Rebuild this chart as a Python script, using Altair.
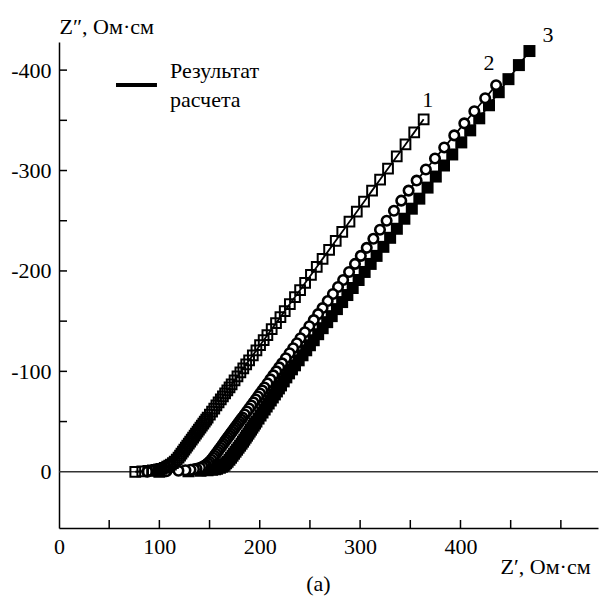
import altair as alt
import pandas as pd

# ---- data (Z' and Z'' in Ohm*cm) ----
s1_zre = [363.3, 353.9, 345.2, 336.5, 327.8, 319.9, 311.9, 303.9, 296.7, 289.4, 282.2, 275.7, 269.1, 262.6,
          256.8, 251.0, 245.2, 240.2, 235.1, 230.0, 224.9, 220.6, 216.2, 211.9, 207.6, 203.9, 200.3, 196.7,
          193.1, 189.4, 186.5, 183.6, 180.7, 177.8, 174.9, 172.0, 169.9, 167.7, 165.5, 163.3, 161.2, 159.0,
          156.8, 154.7, 152.5, 150.3, 148.1, 146.7, 145.2, 143.8, 142.3, 140.9, 139.4, 138.0, 136.5, 135.1,
          133.6, 132.2, 130.7, 129.3, 127.8, 126.4, 124.9, 123.5, 122.0, 120.6, 119.1, 117.3, 115.3, 113.5,
          111.5, 109.8, 107.8, 105.3, 102.0, 99.8, 97.0, 93.5, 89.0, 83.0, 76.0]
s1_zim = [-351, -338, -326, -314, -302, -291, -280, -269, -259, -249, -239, -230, -221, -212, -204, -196,
          -188, -181, -174, -167, -160, -154, -148, -142, -136, -131, -126, -121, -116, -111, -107, -103,
          -99, -95, -91, -87, -84, -81, -78, -75, -72, -69, -66, -63, -60, -57, -54, -52, -50, -48, -46,
          -44, -42, -40, -38, -36, -34, -32, -30, -28, -26, -24, -22, -20, -18, -16, -14, -12, -10, -8.5,
          -7, -6, -5, -4, -3, -2.5, -2, -1.5, -1, -0.5, 0]

s2_zre = [435.5, 424.6, 413.8, 403.8, 393.8, 383.8, 374.6, 365.5, 356.3, 348.3, 341.0, 333.7, 326.4, 319.8,
          313.2, 306.6, 300.7, 294.9, 289.0, 283.1, 278.0, 272.9, 267.7, 262.6, 258.2, 253.8, 249.4, 245.0,
          240.6, 237.0, 233.3, 229.7, 226.0, 222.3, 219.4, 216.5, 213.5, 210.6, 207.7, 204.7, 202.5, 200.3,
          198.2, 196.0, 193.8, 191.6, 189.4, 187.2, 185.0, 182.8, 181.3, 179.8, 178.4, 176.9, 175.4, 174.0,
          172.5, 171.0, 169.6, 168.1, 166.6, 165.2, 163.7, 162.3, 160.8, 159.3, 157.9, 156.4, 154.9, 153.5,
          151.8, 150.0, 148.3, 146.5, 145.0, 143.0, 140.5, 137.0, 134.5, 131.0, 126.0, 119.0, 107.0, 88.0]
s2_zim = [-385, -372, -359, -347, -335, -323, -312, -301, -290, -280, -270, -260, -250, -241, -232, -223,
          -215, -207, -199, -191, -184, -177, -170, -163, -157, -151, -145, -139, -133, -128, -123, -118,
          -113, -108, -104, -100, -96, -92, -88, -84, -81, -78, -75, -72, -69, -66, -63, -60, -57, -54,
          -52, -50, -48, -46, -44, -42, -40, -38, -36, -34, -32, -30, -28, -26, -24, -22, -20, -18, -16,
          -14, -12, -10, -8.5, -7, -6, -5, -4, -3, -2.5, -2, -1.5, -1, -0.5, 0]

s3_zre = [468.7, 458.2, 447.8, 438.1, 428.4, 418.7, 409.7, 400.8, 391.8, 383.6, 375.4, 367.2, 359.0, 351.5,
          344.1, 336.6, 329.9, 323.2, 316.4, 310.5, 304.5, 298.5, 292.6, 287.3, 282.1, 276.9, 271.7, 267.2,
          262.7, 258.2, 253.8, 250.0, 246.3, 242.6, 238.8, 235.1, 232.1, 229.2, 226.5, 223.9, 221.2, 219.1,
          217.1, 215.1, 213.0, 211.0, 208.9, 206.9, 204.9, 202.8, 200.8, 198.8, 196.7, 195.3, 194.0, 192.6,
          191.3, 190.0, 188.7, 187.3, 186.0, 184.6, 183.3, 181.9, 180.4, 178.9, 177.4, 175.9, 174.4, 172.9,
          171.4, 169.8, 168.0, 166.5, 165.0, 163.8, 162.3, 160.3, 157.5, 155.5, 152.5, 148.0, 141.0, 129.0,
          100.0]
s3_zim = [-419, -405, -391, -378, -365, -352, -340, -328, -316, -305, -294, -283, -272, -262, -252, -242,
          -233, -224, -215, -207, -199, -191, -183, -176, -169, -162, -155, -149, -143, -137, -131, -126,
          -121, -116, -111, -106, -102, -98, -94, -90, -86, -83, -80, -77, -74, -71, -68, -65, -62, -59,
          -56, -53, -50, -48, -46, -44, -42, -40, -38, -36, -34, -32, -30, -28, -26, -24, -22, -20, -18,
          -16, -14, -12, -10, -8.5, -7, -6, -5, -4, -3, -2.5, -2, -1.5, -1, -0.5, 0]

x_tick_values = [50, 100, 150, 200, 250, 300, 350, 400, 450, 500]
x_label_values = [0, 100, 200, 300, 400]
y_tick_values = [-400, -350, -300, -250, -200, -150, -100, -50]
y_label_values = [-400, -300, -200, -100, 0]

series_labels = ["1", "2", "3"]
series_label_x = [367.4, 428.3, 487.1]
series_label_y = [-370.1, -407.0, -434.8]

legend_text = ["Результат", "расчета"]
legend_text_x = [110.6, 110.6]
legend_text_y = [-392.0, -363.5]
legend_line_x = [56.8]
legend_line_x2 = [97.6]
legend_line_y = [-385.1]

caption = ["(a)"]
caption_x = [258.5]
caption_y = [118.4]

FONT = "Liberation Serif"
FS = 22

# ---- tables ----
rows = []
for name, xs, ys in [("1", s1_zre, s1_zim), ("2", s2_zre, s2_zim), ("3", s3_zre, s3_zim)]:
    assert len(xs) == len(ys)
    for i, (a, b) in enumerate(zip(xs, ys)):
        rows.append({"series": name, "i": i, "zre": a, "zim": b})
df = pd.DataFrame(rows)

xscale = alt.Scale(domain=[0, 537], nice=False, zero=False)
yscale = alt.Scale(domain=[-428, 56], nice=False, zero=False, reverse=True)

xaxis = alt.Axis(values=x_label_values, ticks=False, tickSize=0, grid=False, labelFont=FONT,
                 labelFontSize=FS, labelColor="black", labelPadding=8, labelFlush=False,
                 labelOverlap=False, domainColor="black", domainWidth=1.5,
                 title="Z\u2032, Ом·см", titleFont=FONT, titleFontSize=FS, titleFontWeight="normal",
                 titleColor="black", titleX=441, titleY=45, titleAlign="left",
                 titleBaseline="alphabetic", titleAngle=0)
yaxis = alt.Axis(values=y_label_values, ticks=False, tickSize=0, grid=False, labelFont=FONT,
                 labelFontSize=FS, labelColor="black", labelPadding=8, labelFlush=False,
                 labelOverlap=False, labelExpr="datum.value == 0 ? '0' : '-' + abs(datum.value)",
                 domainColor="black", domainWidth=1.5,
                 title="Z\u2033, Ом·см", titleFont=FONT, titleFontSize=FS, titleFontWeight="normal",
                 titleColor="black", titleX=0, titleY=-9, titleAlign="left",
                 titleBaseline="alphabetic", titleAngle=0)


def X(field):
    return alt.X(field, type="quantitative", scale=xscale, axis=xaxis)


def Y(field):
    return alt.Y(field, type="quantitative", scale=yscale, axis=yaxis)


zero_line = alt.Chart(pd.DataFrame({"z": [0]})).mark_rule(color="#333333", strokeWidth=1.4).encode(
    y=Y("z"))

fit_lines = alt.Chart(df).mark_line(color="black", strokeWidth=1.8).encode(
    x=X("zre"), y=Y("zim"), detail="series:N", order="i:Q")

pts3 = alt.Chart(df[df.series == "3"]).mark_point(
    shape="square", filled=True, color="black", size=144, opacity=1).encode(x=X("zre"), y=Y("zim"))
pts2 = alt.Chart(df[df.series == "2"]).mark_point(
    shape="circle", filled=True, fill="white", stroke="black", strokeWidth=2.6, size=90,
    opacity=1).encode(x=X("zre"), y=Y("zim"))
pts1 = alt.Chart(df[df.series == "1"]).mark_point(
    shape="square", filled=False, color="black", strokeWidth=2.0, size=95, opacity=1).encode(
    x=X("zre"), y=Y("zim"))

xticks = alt.Chart(pd.DataFrame({"t": x_tick_values})).mark_rule(color="black", strokeWidth=1.5).encode(
    x=X("t"), y=alt.value(486), y2=alt.value(478))
yticks = alt.Chart(pd.DataFrame({"t": y_tick_values})).mark_rule(color="black", strokeWidth=1.5).encode(
    y=Y("t"), x=alt.value(0), x2=alt.value(8))

lab_df = pd.DataFrame({"text": series_labels, "x": series_label_x, "y": series_label_y})
labels = alt.Chart(lab_df).mark_text(font=FONT, fontSize=FS, color="black", align="center",
                                     baseline="middle").encode(x=X("x"), y=Y("y"), text="text:N")

leg_df = pd.DataFrame({"text": legend_text, "x": legend_text_x, "y": legend_text_y})
leg_text = alt.Chart(leg_df).mark_text(font=FONT, fontSize=FS, color="black", align="left",
                                       baseline="alphabetic").encode(x=X("x"), y=Y("y"), text="text:N")
leg_line = alt.Chart(pd.DataFrame({"x": legend_line_x, "x2": legend_line_x2, "y": legend_line_y})).mark_rule(
    color="black", strokeWidth=4).encode(x=X("x"), x2="x2:Q", y=Y("y"))

cap_df = pd.DataFrame({"text": caption, "x": caption_x, "y": caption_y})
cap = alt.Chart(cap_df).mark_text(font=FONT, fontSize=FS, color="black", align="center",
                                  baseline="alphabetic").encode(x=X("x"), y=Y("y"), text="text:N")

chart = alt.layer(zero_line, fit_lines, pts3, pts2, pts1, xticks, yticks, labels, leg_text, leg_line, cap).properties(
    width=539, height=486,
    autosize=alt.AutoSizeParams(type="none"),
    padding={"left": 59, "top": 42, "right": 1, "bottom": 71},
    background="white",
).configure_view(stroke=None)

chart.save("out.html", embed_options={"renderer": "svg", "actions": False})
